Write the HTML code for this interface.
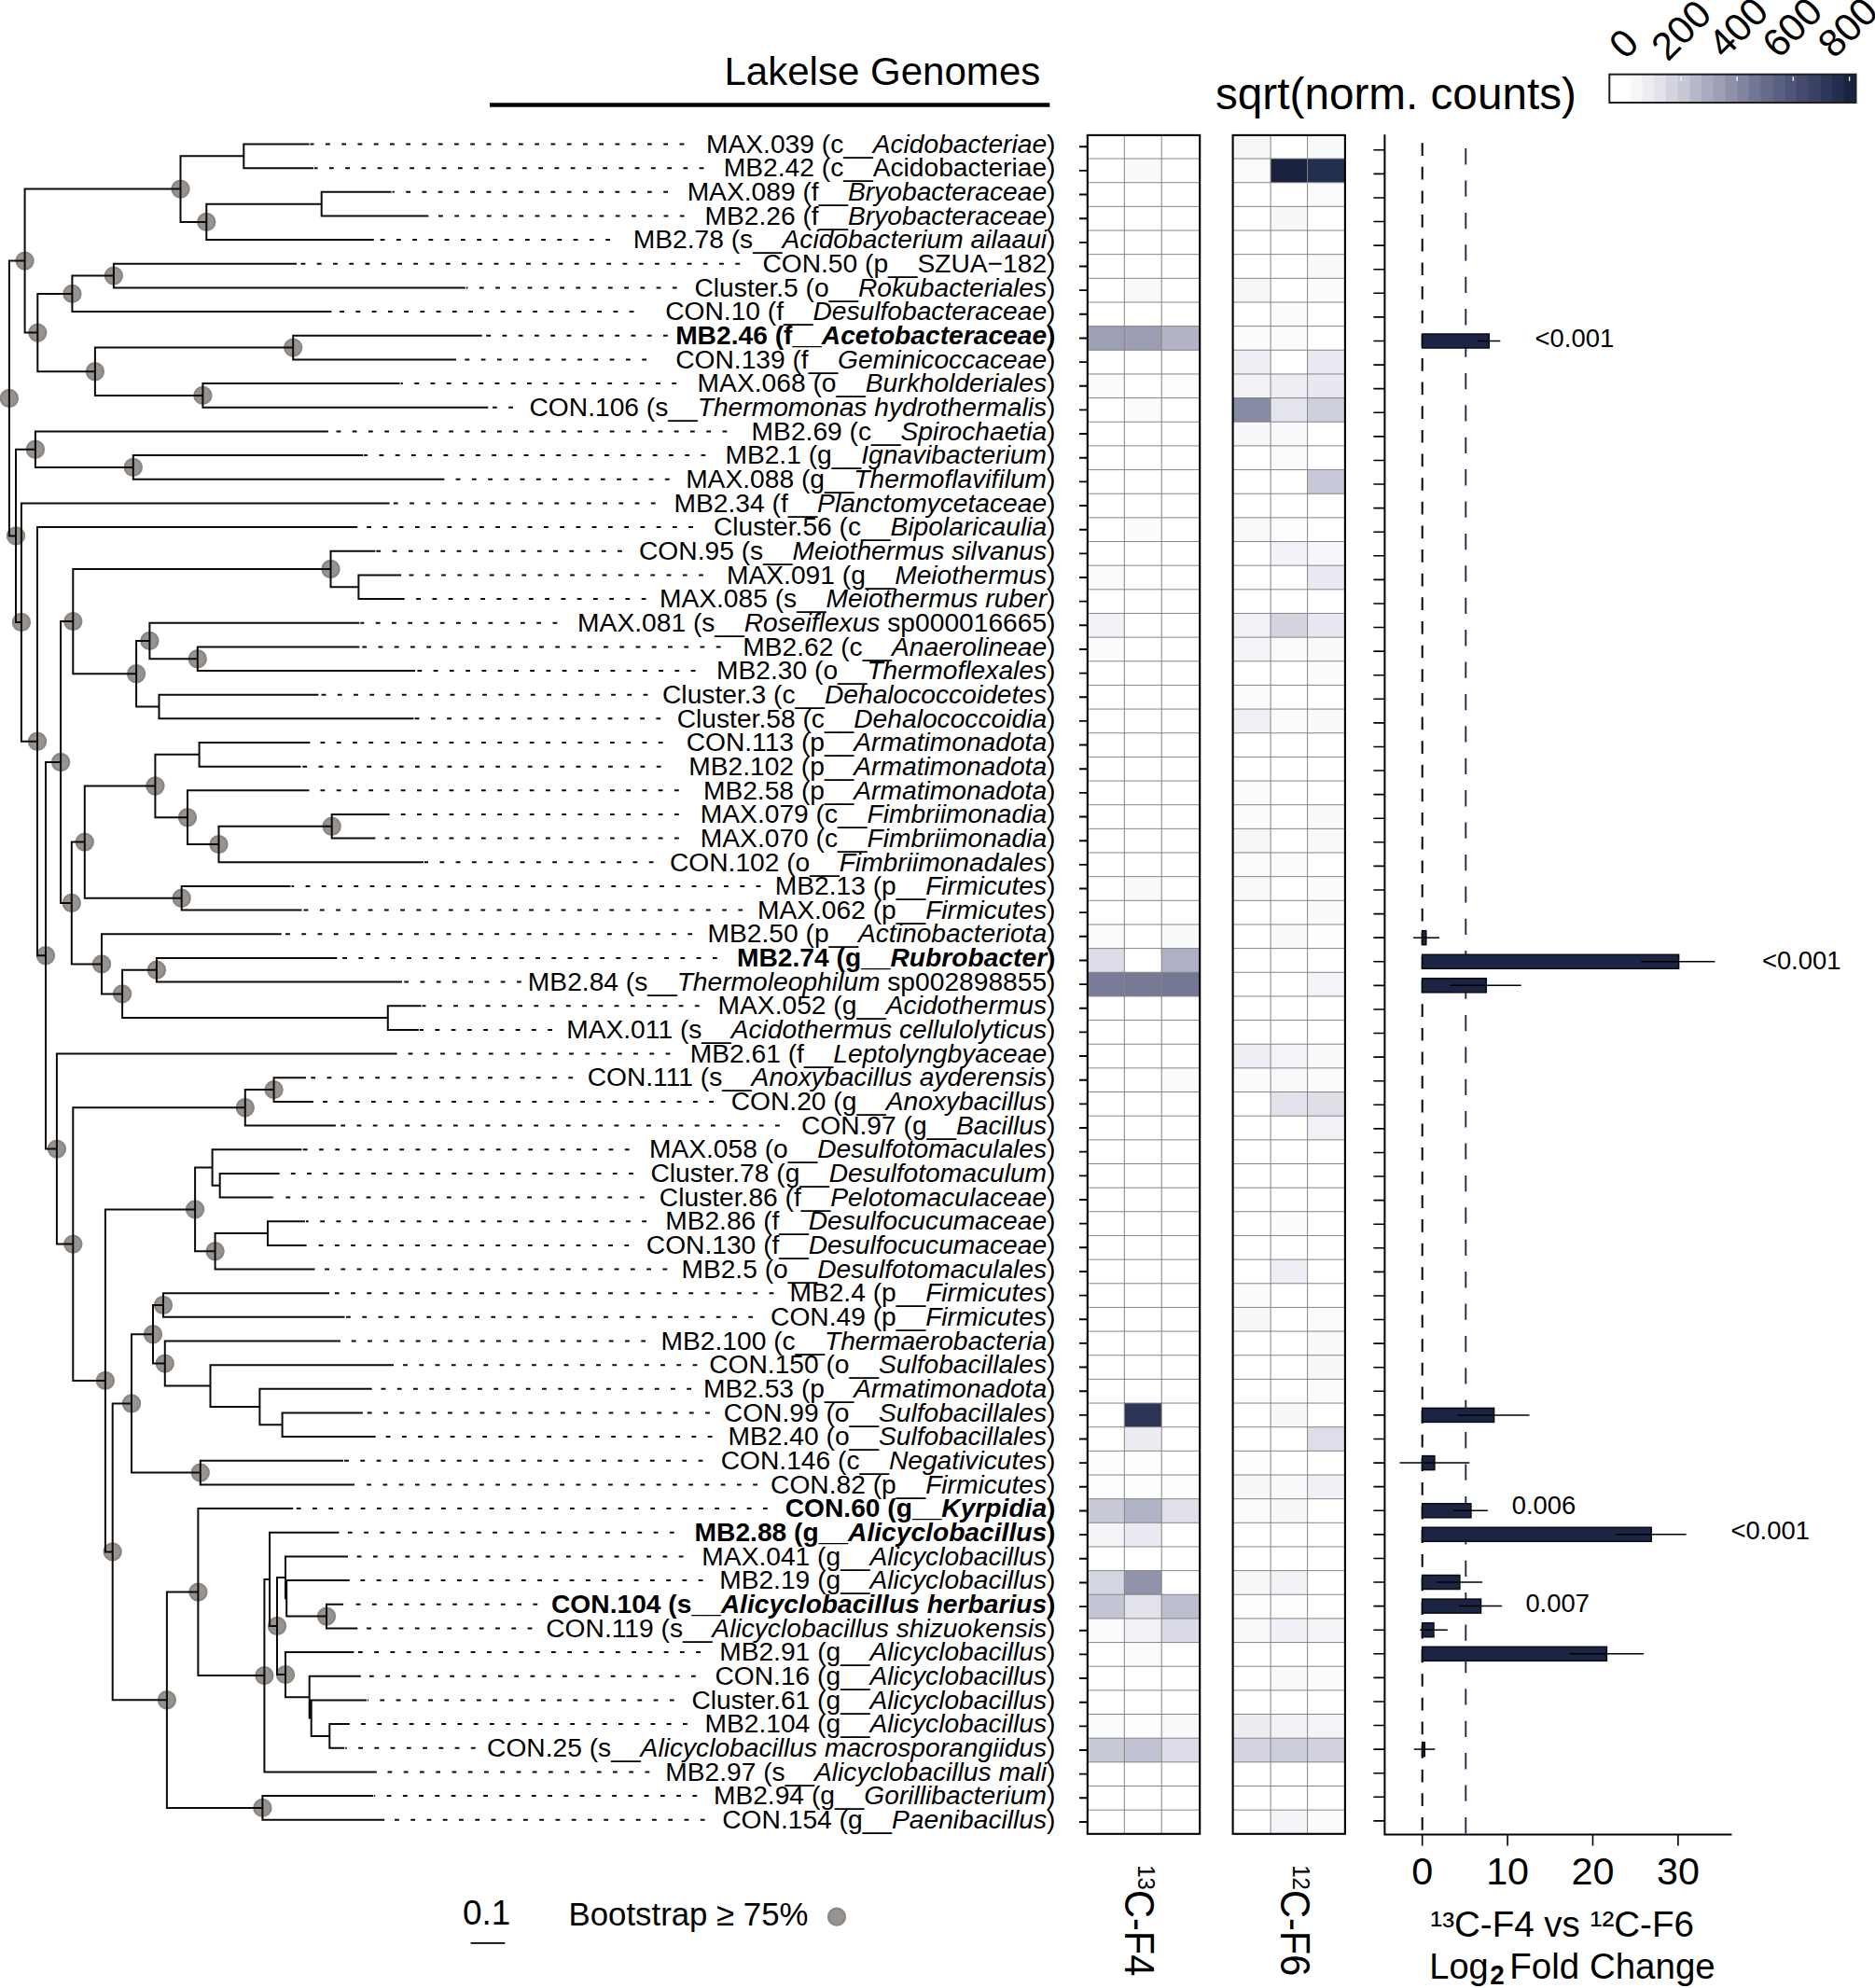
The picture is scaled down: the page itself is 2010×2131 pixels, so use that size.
<!DOCTYPE html>
<html><head><meta charset="utf-8"><title>Lakelse Genomes</title>
<style>
html,body{margin:0;padding:0;background:#fff}
svg{display:block}
text{font-family:"Liberation Sans",sans-serif;fill:#000}
</style></head><body>
<svg width="2010" height="2131" viewBox="0 0 2010 2131">
<rect width="2010" height="2131" fill="#fff"/>
<text x="776.4" y="90.9" font-size="42.05">Lakelse Genomes</text>
<path d="M525 112.4H1125.3" stroke="#000" stroke-width="4.5"/>
<text x="1303.0" y="117.4" font-size="47.7">sqrt(norm. counts)</text>
<g fill="#979390" stroke="#8b8784" stroke-width="2.4">
<circle cx="221.3" cy="237.9" r="9.0"/>
<circle cx="193.5" cy="202.6" r="9.0"/>
<circle cx="121.9" cy="295.6" r="9.0"/>
<circle cx="77.4" cy="314.9" r="9.0"/>
<circle cx="314.2" cy="372.6" r="9.0"/>
<circle cx="217.4" cy="423.9" r="9.0"/>
<circle cx="101.9" cy="398.3" r="9.0"/>
<circle cx="40.3" cy="356.6" r="9.0"/>
<circle cx="26.6" cy="279.6" r="9.0"/>
<circle cx="142.8" cy="500.9" r="9.0"/>
<circle cx="37.9" cy="481.7" r="9.0"/>
<circle cx="354.5" cy="610.0" r="9.0"/>
<circle cx="211.8" cy="706.2" r="9.0"/>
<circle cx="160.4" cy="686.9" r="9.0"/>
<circle cx="146.1" cy="722.2" r="9.0"/>
<circle cx="78.3" cy="666.1" r="9.0"/>
<circle cx="355.7" cy="885.8" r="9.0"/>
<circle cx="234.5" cy="905.1" r="9.0"/>
<circle cx="201.0" cy="876.2" r="9.0"/>
<circle cx="166.4" cy="842.5" r="9.0"/>
<circle cx="194.7" cy="962.8" r="9.0"/>
<circle cx="90.8" cy="902.6" r="9.0"/>
<circle cx="167.9" cy="1039.8" r="9.0"/>
<circle cx="131.1" cy="1065.4" r="9.0"/>
<circle cx="109.0" cy="1033.4" r="9.0"/>
<circle cx="76.8" cy="968.0" r="9.0"/>
<circle cx="65.1" cy="817.0" r="9.0"/>
<circle cx="293.6" cy="1168.1" r="9.0"/>
<circle cx="262.8" cy="1187.3" r="9.0"/>
<circle cx="230.6" cy="1341.3" r="9.0"/>
<circle cx="209.1" cy="1296.4" r="9.0"/>
<circle cx="175.0" cy="1399.0" r="9.0"/>
<circle cx="176.8" cy="1461.6" r="9.0"/>
<circle cx="164.0" cy="1430.3" r="9.0"/>
<circle cx="214.8" cy="1578.6" r="9.0"/>
<circle cx="141.0" cy="1504.5" r="9.0"/>
<circle cx="350.0" cy="1732.6" r="9.0"/>
<circle cx="306.0" cy="1795.1" r="9.0"/>
<circle cx="297.0" cy="1743.0" r="9.0"/>
<circle cx="283.4" cy="1796.1" r="9.0"/>
<circle cx="212.4" cy="1706.6" r="9.0"/>
<circle cx="281.4" cy="1937.9" r="9.0"/>
<circle cx="178.9" cy="1822.2" r="9.0"/>
<circle cx="120.7" cy="1663.4" r="9.0"/>
<circle cx="112.9" cy="1479.9" r="9.0"/>
<circle cx="78.3" cy="1333.6" r="9.0"/>
<circle cx="60.9" cy="1231.6" r="9.0"/>
<circle cx="49.0" cy="1024.3" r="9.0"/>
<circle cx="40.0" cy="794.7" r="9.0"/>
<circle cx="22.9" cy="667.0" r="9.0"/>
<circle cx="17.0" cy="574.4" r="9.0"/>
<circle cx="9.9" cy="427.0" r="9.0"/>
</g>
<path d="M260.3 154.5H331.5M260.3 180.2H336.0M261.3 153.5V181.2M192.5 167.3H261.3M343.7 205.8H419.6M343.7 231.5H459.4M344.7 204.8V232.5M220.3 218.7H344.7M220.3 257.1H400.8M221.3 217.7V258.1M192.5 237.9H221.3M193.5 166.3V238.9M25.6 202.6H193.5M120.9 282.8H318.1M120.9 308.5H498.8M121.9 281.8V309.5M76.4 295.6H121.9M76.4 334.1H355.4M77.4 294.6V335.1M39.3 314.9H77.4M313.2 359.8H516.7M313.2 385.4H489.0M314.2 358.8V386.4M100.9 372.6H314.2M216.4 411.1H428.6M216.4 436.8H523.3M217.4 410.1V437.8M100.9 423.9H217.4M101.9 371.6V424.9M39.3 398.3H101.9M40.3 313.9V399.3M25.6 356.6H40.3M26.6 201.6V357.6M8.9 279.6H26.6M36.9 462.4H351.9M141.8 488.1H389.2M141.8 513.7H476.4M142.8 487.1V514.7M36.9 500.9H142.8M37.9 461.4V501.9M16.0 481.7H37.9M21.9 539.4H417.6M39.0 565.1H383.2M353.5 590.7H402.3M383.4 616.4H430.1M383.4 642.0H433.7M384.4 615.4V643.0M353.5 629.2H384.4M354.5 589.7V630.2M77.3 610.0H354.5M159.4 667.7H385.3M210.8 693.4H385.3M210.8 719.0H445.0M211.8 692.4V720.0M159.4 706.2H211.8M160.4 666.7V707.2M145.1 686.9H160.4M169.5 744.7H341.4M169.5 770.3H443.5M170.5 743.7V771.3M145.1 757.5H170.5M146.1 685.9V758.5M77.3 722.2H146.1M78.3 609.0V723.2M64.1 666.1H78.3M212.6 796.0H332.4M212.6 821.7H322.6M213.6 795.0V822.7M165.4 808.8H213.6M200.0 847.3H331.5M354.7 873.0H417.6M354.7 898.6H402.3M355.7 872.0V899.6M233.5 885.8H355.7M233.5 924.3H454.0M234.5 884.8V925.3M200.0 905.1H234.5M201.0 846.3V906.1M165.4 876.2H201.0M166.4 807.8V877.2M89.8 842.5H166.4M193.7 950.0H311.5M193.7 975.6H323.5M194.7 949.0V976.6M89.8 962.8H194.7M90.8 841.5V963.8M75.8 902.6H90.8M108.0 1001.3H301.7M166.9 1026.9H361.4M166.9 1052.6H431.0M167.9 1025.9V1053.6M130.1 1039.8H167.9M414.8 1078.3H451.6M414.8 1103.9H448.9M415.8 1077.3V1104.9M130.1 1091.1H415.8M131.1 1038.8V1092.1M108.0 1065.4H131.1M109.0 1000.3V1066.4M75.8 1033.4H109.0M76.8 901.6V1034.4M64.1 968.0H76.8M65.1 665.1V969.0M48.0 817.0H65.1M59.9 1129.6H425.6M292.6 1155.2H328.0M292.6 1180.9H336.0M293.6 1154.2V1181.9M261.8 1168.1H293.6M261.8 1206.6H359.9M262.8 1167.1V1207.6M77.3 1187.3H262.8M226.6 1232.2H323.5M234.7 1257.9H299.6M234.7 1283.5H292.7M235.7 1256.9V1284.5M226.6 1270.7H235.7M227.6 1231.2V1271.7M208.1 1251.5H227.6M286.0 1309.2H327.0M286.0 1334.9H328.6M287.0 1308.2V1335.9M229.6 1322.0H287.0M229.6 1360.5H337.5M230.6 1321.0V1361.5M208.1 1341.3H230.6M209.1 1250.5V1342.3M111.9 1296.4H209.1M174.0 1386.2H353.0M174.0 1411.8H369.5M175.0 1385.2V1412.8M163.0 1399.0H175.0M175.8 1437.5H365.0M224.5 1463.2H422.0M277.4 1488.8H398.7M301.6 1514.5H388.9M301.6 1540.1H402.6M302.6 1513.5V1541.1M277.4 1527.3H302.6M278.4 1487.8V1528.3M224.5 1508.1H278.4M225.5 1462.2V1509.1M175.8 1485.6H225.5M176.8 1436.5V1486.6M163.0 1461.6H176.8M164.0 1398.0V1462.6M140.0 1430.3H164.0M213.8 1565.8H368.0M213.8 1591.5H380.0M214.8 1564.8V1592.5M140.0 1578.6H214.8M141.0 1429.3V1579.6M119.7 1504.5H141.0M211.4 1617.1H314.2M288.1 1642.8H363.5M305.0 1668.4H373.0M306.2 1694.1H374.9M349.0 1719.8H368.0M349.0 1745.4H383.3M350.0 1718.8V1746.4M306.2 1732.6H350.0M307.2 1693.1V1733.6M305.0 1713.3H307.2M306.0 1667.4V1714.3M296.0 1690.9H306.0M305.0 1771.1H379.4M330.7 1796.7H386.8M332.7 1822.4H393.0M352.3 1848.1H374.9M352.3 1873.7H369.2M353.3 1847.1V1874.7M332.7 1860.9H353.3M333.7 1821.4V1861.9M330.7 1841.6H333.7M331.7 1795.7V1842.6M305.0 1819.2H331.7M306.0 1770.1V1820.2M296.0 1795.1H306.0M297.0 1689.9V1796.1M288.1 1743.0H297.0M289.1 1641.8V1744.0M282.4 1692.9H289.1M282.4 1899.4H403.8M283.4 1691.9V1900.4M211.4 1796.1H283.4M212.4 1616.1V1797.1M177.9 1706.6H212.4M280.4 1925.0H400.2M280.4 1950.7H412.2M281.4 1924.0V1951.7M177.9 1937.9H281.4M178.9 1705.6V1938.9M119.7 1822.2H178.9M120.7 1503.5V1823.2M111.9 1663.4H120.7M112.9 1295.4V1664.4M77.3 1479.9H112.9M78.3 1186.3V1480.9M59.9 1333.6H78.3M60.9 1128.6V1334.6M48.0 1231.6H60.9M49.0 816.0V1232.6M39.0 1024.3H49.0M40.0 564.1V1025.3M21.9 794.7H40.0M22.9 538.4V795.7M16.0 667.0H22.9M17.0 480.7V668.0M8.9 574.4H17.0M9.9 278.6V575.4" stroke="#0e0a08" stroke-width="2" fill="none" stroke-linecap="butt"/>
<path d="M733.3 154.5H332.5M754.5 180.2H337.0M716.0 205.8H420.6M733.6 231.5H460.4M654.0 257.1H401.8M793.1 282.8H319.1M725.7 308.5H499.8M679.5 334.1H356.4M715.8 359.8H517.7M693.0 385.4H490.0M725.1 411.1H429.6M550.0 436.8H524.3M779.3 462.4H352.9M756.3 488.1H390.2M717.7 513.7H477.4M702.7 539.4H418.6M743.0 565.1H384.2M666.9 590.7H403.3M753.9 616.4H431.1M692.5 642.0H434.7M597.3 667.7H386.3M772.6 693.4H386.3M745.5 719.0H446.0M694.4 744.7H342.4M708.2 770.3H444.5M710.6 796.0H333.4M708.6 821.7H323.6M727.8 847.3H332.5M727.8 873.0H418.6M727.8 898.6H403.3M700.5 924.3H455.0M815.4 950.0H312.5M796.2 975.6H324.5M742.1 1001.3H302.7M768.7 1026.9H362.4M558.8 1052.6H432.0M749.7 1078.3H452.6M592.0 1103.9H449.9M718.4 1129.6H426.6M614.1 1155.2H329.0M765.0 1180.9H337.0M835.8 1206.6H360.9M674.6 1232.2H324.5M678.9 1257.9H300.6M690.7 1283.5H293.7M693.0 1309.2H328.0M674.2 1334.9H329.6M715.2 1360.5H338.5M829.4 1386.2H354.0M807.1 1411.8H370.5M692.1 1437.5H366.0M747.4 1463.2H423.0M741.1 1488.8H399.7M760.9 1514.5H389.9M763.5 1540.1H403.6M753.4 1565.8H369.0M812.0 1591.5H381.0M822.8 1617.1H315.2M722.7 1642.8H364.5M732.5 1668.4H374.0M753.5 1694.1H375.9M576.2 1719.8H369.0M570.4 1745.4H384.3M751.0 1771.1H380.4M745.8 1796.7H387.8M722.7 1822.4H394.0M736.8 1848.1H375.9M509.7 1873.7H370.2M696.3 1899.4H404.8M747.2 1925.0H401.2M755.6 1950.7H413.2" stroke="#0e0a08" stroke-width="2" fill="none" stroke-dasharray="4.8 12.45"/>
<g font-size="28.2">
<text transform="translate(1131.50 163.70) scale(1.0000 1)" text-anchor="end">MAX.039 (c__<tspan font-style="italic">Acidobacteriae</tspan>)</text>
<text transform="translate(1131.50 189.36) scale(1.0000 1)" text-anchor="end">MB2.42 (c__Acidobacteriae)</text>
<text transform="translate(1131.50 215.02) scale(1.0000 1)" text-anchor="end">MAX.089 (f__<tspan font-style="italic">Bryobacteraceae</tspan>)</text>
<text transform="translate(1131.50 240.68) scale(1.0000 1)" text-anchor="end">MB2.26 (f__<tspan font-style="italic">Bryobacteraceae</tspan>)</text>
<text transform="translate(1131.50 266.34) scale(1.0000 1)" text-anchor="end">MB2.78 (s__<tspan font-style="italic">Acidobacterium ailaaui</tspan>)</text>
<text transform="translate(1131.50 292.00) scale(1.0000 1)" text-anchor="end">CON.50 (p__SZUA−182)</text>
<text transform="translate(1131.50 317.66) scale(1.0000 1)" text-anchor="end">Cluster.5 (o__<tspan font-style="italic">Rokubacteriales</tspan>)</text>
<text transform="translate(1131.50 343.32) scale(1.0000 1)" text-anchor="end">CON.10 (f__<tspan font-style="italic">Desulfobacteraceae</tspan>)</text>
<text transform="translate(1131.50 368.98) scale(1.0000 1)" text-anchor="end" font-weight="bold">MB2.46 (f__<tspan font-style="italic">Acetobacteraceae</tspan>)</text>
<text transform="translate(1131.50 394.64) scale(1.0000 1)" text-anchor="end">CON.139 (f__<tspan font-style="italic">Geminicoccaceae</tspan>)</text>
<text transform="translate(1131.50 420.30) scale(1.0000 1)" text-anchor="end">MAX.068 (o__<tspan font-style="italic">Burkholderiales</tspan>)</text>
<text transform="translate(1131.50 445.96) scale(1.0000 1)" text-anchor="end">CON.106 (s__<tspan font-style="italic">Thermomonas hydrothermalis</tspan>)</text>
<text transform="translate(1131.50 471.62) scale(1.0000 1)" text-anchor="end">MB2.69 (c__<tspan font-style="italic">Spirochaetia</tspan>)</text>
<text transform="translate(1131.50 497.28) scale(1.0000 1)" text-anchor="end">MB2.1 (g__<tspan font-style="italic">Ignavibacterium</tspan>)</text>
<text transform="translate(1131.50 522.94) scale(1.0000 1)" text-anchor="end">MAX.088 (g__<tspan font-style="italic">Thermoflavifilum</tspan>)</text>
<text transform="translate(1131.50 548.60) scale(1.0000 1)" text-anchor="end">MB2.34 (f__<tspan font-style="italic">Planctomycetaceae</tspan>)</text>
<text transform="translate(1131.50 574.26) scale(1.0000 1)" text-anchor="end">Cluster.56 (c__<tspan font-style="italic">Bipolaricaulia</tspan>)</text>
<text transform="translate(1131.50 599.92) scale(1.0000 1)" text-anchor="end">CON.95 (s__<tspan font-style="italic">Meiothermus silvanus</tspan>)</text>
<text transform="translate(1131.50 625.58) scale(1.0000 1)" text-anchor="end">MAX.091 (g__<tspan font-style="italic">Meiothermus</tspan>)</text>
<text transform="translate(1131.50 651.24) scale(1.0000 1)" text-anchor="end">MAX.085 (s__<tspan font-style="italic">Meiothermus ruber</tspan>)</text>
<text transform="translate(1131.50 676.90) scale(1.0000 1)" text-anchor="end">MAX.081 (s__<tspan font-style="italic">Roseiflexus</tspan> sp000016665)</text>
<text transform="translate(1131.50 702.56) scale(1.0000 1)" text-anchor="end">MB2.62 (c__<tspan font-style="italic">Anaerolineae</tspan>)</text>
<text transform="translate(1131.50 728.22) scale(1.0000 1)" text-anchor="end">MB2.30 (o__<tspan font-style="italic">Thermoflexales</tspan>)</text>
<text transform="translate(1131.50 753.88) scale(1.0000 1)" text-anchor="end">Cluster.3 (c__<tspan font-style="italic">Dehalococcoidetes</tspan>)</text>
<text transform="translate(1131.50 779.54) scale(1.0000 1)" text-anchor="end">Cluster.58 (c__<tspan font-style="italic">Dehalococcoidia</tspan>)</text>
<text transform="translate(1131.50 805.20) scale(1.0000 1)" text-anchor="end">CON.113 (p__<tspan font-style="italic">Armatimonadota</tspan>)</text>
<text transform="translate(1131.50 830.86) scale(1.0000 1)" text-anchor="end">MB2.102 (p__<tspan font-style="italic">Armatimonadota</tspan>)</text>
<text transform="translate(1131.50 856.52) scale(1.0000 1)" text-anchor="end">MB2.58 (p__<tspan font-style="italic">Armatimonadota</tspan>)</text>
<text transform="translate(1131.50 882.18) scale(1.0000 1)" text-anchor="end">MAX.079 (c__<tspan font-style="italic">Fimbriimonadia</tspan>)</text>
<text transform="translate(1131.50 907.84) scale(1.0000 1)" text-anchor="end">MAX.070 (c__<tspan font-style="italic">Fimbriimonadia</tspan>)</text>
<text transform="translate(1131.50 933.50) scale(1.0000 1)" text-anchor="end">CON.102 (o__<tspan font-style="italic">Fimbriimonadales</tspan>)</text>
<text transform="translate(1131.50 959.16) scale(1.0000 1)" text-anchor="end">MB2.13 (p__<tspan font-style="italic">Firmicutes</tspan>)</text>
<text transform="translate(1131.50 984.82) scale(1.0000 1)" text-anchor="end">MAX.062 (p__<tspan font-style="italic">Firmicutes</tspan>)</text>
<text transform="translate(1131.50 1010.48) scale(1.0000 1)" text-anchor="end">MB2.50 (p__<tspan font-style="italic">Actinobacteriota</tspan>)</text>
<text transform="translate(1131.50 1036.14) scale(1.0000 1)" text-anchor="end" font-weight="bold">MB2.74 (g__<tspan font-style="italic">Rubrobacter</tspan>)</text>
<text transform="translate(1131.50 1061.80) scale(1.0000 1)" text-anchor="end">MB2.84 (s__<tspan font-style="italic">Thermoleophilum</tspan> sp002898855)</text>
<text transform="translate(1131.50 1087.46) scale(1.0000 1)" text-anchor="end">MAX.052 (g__<tspan font-style="italic">Acidothermus</tspan>)</text>
<text transform="translate(1131.50 1113.12) scale(1.0000 1)" text-anchor="end">MAX.011 (s__<tspan font-style="italic">Acidothermus cellulolyticus</tspan>)</text>
<text transform="translate(1131.50 1138.78) scale(1.0000 1)" text-anchor="end">MB2.61 (f__<tspan font-style="italic">Leptolyngbyaceae</tspan>)</text>
<text transform="translate(1131.50 1164.44) scale(1.0000 1)" text-anchor="end">CON.111 (s__<tspan font-style="italic">Anoxybacillus ayderensis</tspan>)</text>
<text transform="translate(1131.50 1190.10) scale(1.0000 1)" text-anchor="end">CON.20 (g__<tspan font-style="italic">Anoxybacillus</tspan>)</text>
<text transform="translate(1131.50 1215.76) scale(1.0000 1)" text-anchor="end">CON.97 (g__<tspan font-style="italic">Bacillus</tspan>)</text>
<text transform="translate(1131.50 1241.42) scale(1.0000 1)" text-anchor="end">MAX.058 (o__<tspan font-style="italic">Desulfotomaculales</tspan>)</text>
<text transform="translate(1131.50 1267.08) scale(1.0000 1)" text-anchor="end">Cluster.78 (g__<tspan font-style="italic">Desulfotomaculum</tspan>)</text>
<text transform="translate(1131.50 1292.74) scale(1.0000 1)" text-anchor="end">Cluster.86 (f__<tspan font-style="italic">Pelotomaculaceae</tspan>)</text>
<text transform="translate(1131.50 1318.40) scale(1.0000 1)" text-anchor="end">MB2.86 (f__<tspan font-style="italic">Desulfocucumaceae</tspan>)</text>
<text transform="translate(1131.50 1344.06) scale(1.0000 1)" text-anchor="end">CON.130 (f__<tspan font-style="italic">Desulfocucumaceae</tspan>)</text>
<text transform="translate(1131.50 1369.72) scale(1.0000 1)" text-anchor="end">MB2.5 (o__<tspan font-style="italic">Desulfotomaculales</tspan>)</text>
<text transform="translate(1131.50 1395.38) scale(1.0000 1)" text-anchor="end">MB2.4 (p__<tspan font-style="italic">Firmicutes</tspan>)</text>
<text transform="translate(1131.50 1421.04) scale(1.0000 1)" text-anchor="end">CON.49 (p__<tspan font-style="italic">Firmicutes</tspan>)</text>
<text transform="translate(1131.50 1446.70) scale(1.0000 1)" text-anchor="end">MB2.100 (c__<tspan font-style="italic">Thermaerobacteria</tspan>)</text>
<text transform="translate(1131.50 1472.36) scale(1.0000 1)" text-anchor="end">CON.150 (o__<tspan font-style="italic">Sulfobacillales</tspan>)</text>
<text transform="translate(1131.50 1498.02) scale(1.0000 1)" text-anchor="end">MB2.53 (p__<tspan font-style="italic">Armatimonadota</tspan>)</text>
<text transform="translate(1131.50 1523.68) scale(1.0000 1)" text-anchor="end">CON.99 (o__<tspan font-style="italic">Sulfobacillales</tspan>)</text>
<text transform="translate(1131.50 1549.34) scale(1.0000 1)" text-anchor="end">MB2.40 (o__<tspan font-style="italic">Sulfobacillales</tspan>)</text>
<text transform="translate(1131.50 1575.00) scale(1.0000 1)" text-anchor="end">CON.146 (c__<tspan font-style="italic">Negativicutes</tspan>)</text>
<text transform="translate(1131.50 1600.66) scale(1.0000 1)" text-anchor="end">CON.82 (p__<tspan font-style="italic">Firmicutes</tspan>)</text>
<text transform="translate(1131.50 1626.32) scale(1.0000 1)" text-anchor="end" font-weight="bold">CON.60 (g__<tspan font-style="italic">Kyrpidia</tspan>)</text>
<text transform="translate(1131.50 1651.98) scale(1.0000 1)" text-anchor="end" font-weight="bold">MB2.88 (g__<tspan font-style="italic">Alicyclobacillus</tspan>)</text>
<text transform="translate(1131.50 1677.64) scale(1.0000 1)" text-anchor="end">MAX.041 (g__<tspan font-style="italic">Alicyclobacillus</tspan>)</text>
<text transform="translate(1131.50 1703.30) scale(1.0000 1)" text-anchor="end">MB2.19 (g__<tspan font-style="italic">Alicyclobacillus</tspan>)</text>
<text transform="translate(1131.50 1728.96) scale(1.0000 1)" text-anchor="end" font-weight="bold">CON.104 (s__<tspan font-style="italic">Alicyclobacillus herbarius</tspan>)</text>
<text transform="translate(1131.50 1754.62) scale(1.0000 1)" text-anchor="end">CON.119 (s__<tspan font-style="italic">Alicyclobacillus shizuokensis</tspan>)</text>
<text transform="translate(1131.50 1780.28) scale(1.0000 1)" text-anchor="end">MB2.91 (g__<tspan font-style="italic">Alicyclobacillus</tspan>)</text>
<text transform="translate(1131.50 1805.94) scale(1.0000 1)" text-anchor="end">CON.16 (g__<tspan font-style="italic">Alicyclobacillus</tspan>)</text>
<text transform="translate(1131.50 1831.60) scale(1.0000 1)" text-anchor="end">Cluster.61 (g__<tspan font-style="italic">Alicyclobacillus</tspan>)</text>
<text transform="translate(1131.50 1857.26) scale(1.0000 1)" text-anchor="end">MB2.104 (g__<tspan font-style="italic">Alicyclobacillus</tspan>)</text>
<text transform="translate(1131.50 1882.92) scale(1.0000 1)" text-anchor="end">CON.25 (s__<tspan font-style="italic">Alicyclobacillus macrosporangiidus</tspan>)</text>
<text transform="translate(1131.50 1908.58) scale(1.0000 1)" text-anchor="end">MB2.97 (s__<tspan font-style="italic">Alicyclobacillus mali</tspan>)</text>
<text transform="translate(1131.50 1934.24) scale(1.0000 1)" text-anchor="end">MB2.94 (g__<tspan font-style="italic">Gorillibacterium</tspan>)</text>
<text transform="translate(1131.50 1959.90) scale(1.0000 1)" text-anchor="end">CON.154 (g__<tspan font-style="italic">Paenibacillus</tspan>)</text>
</g>
<rect x="1205.3" y="170.05" width="39.9" height="25.65" fill="#fafafc"/>
<rect x="1205.3" y="298.32" width="39.9" height="25.65" fill="#f9f9fb"/>
<rect x="1165.8" y="349.63" width="39.5" height="25.65" fill="#9d9fb6"/>
<rect x="1205.3" y="349.63" width="39.9" height="25.65" fill="#9b9db3"/>
<rect x="1245.2" y="349.63" width="41.0" height="25.65" fill="#b3b5c6"/>
<rect x="1165.8" y="400.94" width="39.5" height="25.65" fill="#fcfcfc"/>
<rect x="1245.2" y="400.94" width="41.0" height="25.65" fill="#fdfdfe"/>
<rect x="1205.3" y="426.59" width="39.9" height="25.65" fill="#fbfbfd"/>
<rect x="1205.3" y="554.86" width="39.9" height="25.65" fill="#fcfcfc"/>
<rect x="1165.8" y="606.16" width="39.5" height="25.65" fill="#fafbfd"/>
<rect x="1165.8" y="657.47" width="39.5" height="25.65" fill="#f2f3f8"/>
<rect x="1165.8" y="683.12" width="39.5" height="25.65" fill="#fbfcfd"/>
<rect x="1205.3" y="939.66" width="39.9" height="25.65" fill="#f9fafc"/>
<rect x="1165.8" y="990.97" width="39.5" height="25.65" fill="#fafbfd"/>
<rect x="1245.2" y="990.97" width="41.0" height="25.65" fill="#f9fafc"/>
<rect x="1165.8" y="1016.62" width="39.5" height="25.65" fill="#dcdde8"/>
<rect x="1245.2" y="1016.62" width="41.0" height="25.65" fill="#aeb1c6"/>
<rect x="1165.8" y="1042.27" width="39.5" height="25.65" fill="#787c98"/>
<rect x="1205.3" y="1042.27" width="39.9" height="25.65" fill="#767a96"/>
<rect x="1245.2" y="1042.27" width="41.0" height="25.65" fill="#747896"/>
<rect x="1245.2" y="1144.89" width="41.0" height="25.65" fill="#fcfcfe"/>
<rect x="1205.3" y="1504.04" width="39.9" height="25.65" fill="#2c3557"/>
<rect x="1205.3" y="1529.69" width="39.9" height="25.65" fill="#ecedf3"/>
<rect x="1165.8" y="1555.34" width="39.5" height="25.65" fill="#fdfdfe"/>
<rect x="1205.3" y="1555.34" width="39.9" height="25.65" fill="#fdfdfd"/>
<rect x="1165.8" y="1581.00" width="39.5" height="25.65" fill="#fdfdfd"/>
<rect x="1205.3" y="1581.00" width="39.9" height="25.65" fill="#fefefe"/>
<rect x="1245.2" y="1581.00" width="41.0" height="25.65" fill="#fdfdfe"/>
<rect x="1165.8" y="1606.65" width="39.5" height="25.65" fill="#c9cad8"/>
<rect x="1205.3" y="1606.65" width="39.9" height="25.65" fill="#b1b3c7"/>
<rect x="1245.2" y="1606.65" width="41.0" height="25.65" fill="#e0e1e8"/>
<rect x="1165.8" y="1632.30" width="39.5" height="25.65" fill="#f4f5f9"/>
<rect x="1205.3" y="1632.30" width="39.9" height="25.65" fill="#eaebf2"/>
<rect x="1165.8" y="1683.61" width="39.5" height="25.65" fill="#d4d7e2"/>
<rect x="1205.3" y="1683.61" width="39.9" height="25.65" fill="#8f94ab"/>
<rect x="1165.8" y="1709.26" width="39.5" height="25.65" fill="#c3c4d4"/>
<rect x="1205.3" y="1709.26" width="39.9" height="25.65" fill="#e2e3ea"/>
<rect x="1245.2" y="1709.26" width="41.0" height="25.65" fill="#bcbed0"/>
<rect x="1165.8" y="1734.92" width="39.5" height="25.65" fill="#fcfcfe"/>
<rect x="1205.3" y="1734.92" width="39.9" height="25.65" fill="#f1f2f7"/>
<rect x="1245.2" y="1734.92" width="41.0" height="25.65" fill="#dadbe6"/>
<rect x="1205.3" y="1760.57" width="39.9" height="25.65" fill="#fbfbfd"/>
<rect x="1165.8" y="1837.53" width="39.5" height="25.65" fill="#fafbfd"/>
<rect x="1205.3" y="1837.53" width="39.9" height="25.65" fill="#fdfdfe"/>
<rect x="1245.2" y="1837.53" width="41.0" height="25.65" fill="#f9f9fb"/>
<rect x="1165.8" y="1863.19" width="39.5" height="25.65" fill="#c9cad8"/>
<rect x="1205.3" y="1863.19" width="39.9" height="25.65" fill="#c2c3d4"/>
<rect x="1245.2" y="1863.19" width="41.0" height="25.65" fill="#dcdde8"/>
<path d="M1165.8 170.05H1286.2M1165.8 195.71H1286.2M1165.8 221.36H1286.2M1165.8 247.01H1286.2M1165.8 272.67H1286.2M1165.8 298.32H1286.2M1165.8 323.97H1286.2M1165.8 349.63H1286.2M1165.8 375.28H1286.2M1165.8 400.94H1286.2M1165.8 426.59H1286.2M1165.8 452.24H1286.2M1165.8 477.90H1286.2M1165.8 503.55H1286.2M1165.8 529.20H1286.2M1165.8 554.86H1286.2M1165.8 580.51H1286.2M1165.8 606.16H1286.2M1165.8 631.82H1286.2M1165.8 657.47H1286.2M1165.8 683.12H1286.2M1165.8 708.78H1286.2M1165.8 734.43H1286.2M1165.8 760.08H1286.2M1165.8 785.74H1286.2M1165.8 811.39H1286.2M1165.8 837.05H1286.2M1165.8 862.70H1286.2M1165.8 888.35H1286.2M1165.8 914.01H1286.2M1165.8 939.66H1286.2M1165.8 965.31H1286.2M1165.8 990.97H1286.2M1165.8 1016.62H1286.2M1165.8 1042.27H1286.2M1165.8 1067.93H1286.2M1165.8 1093.58H1286.2M1165.8 1119.23H1286.2M1165.8 1144.89H1286.2M1165.8 1170.54H1286.2M1165.8 1196.19H1286.2M1165.8 1221.85H1286.2M1165.8 1247.50H1286.2M1165.8 1273.15H1286.2M1165.8 1298.81H1286.2M1165.8 1324.46H1286.2M1165.8 1350.12H1286.2M1165.8 1375.77H1286.2M1165.8 1401.42H1286.2M1165.8 1427.08H1286.2M1165.8 1452.73H1286.2M1165.8 1478.38H1286.2M1165.8 1504.04H1286.2M1165.8 1529.69H1286.2M1165.8 1555.34H1286.2M1165.8 1581.00H1286.2M1165.8 1606.65H1286.2M1165.8 1632.30H1286.2M1165.8 1657.96H1286.2M1165.8 1683.61H1286.2M1165.8 1709.26H1286.2M1165.8 1734.92H1286.2M1165.8 1760.57H1286.2M1165.8 1786.23H1286.2M1165.8 1811.88H1286.2M1165.8 1837.53H1286.2M1165.8 1863.19H1286.2M1165.8 1888.84H1286.2M1165.8 1914.49H1286.2M1165.8 1940.15H1286.2M1205.3 144.4V1965.8M1245.2 144.4V1965.8" stroke="#827e7b" stroke-width="0.95" fill="none"/>
<rect x="1165.8" y="144.9" width="120.4" height="1820.9" fill="none" stroke="#000" stroke-width="2.1"/>
<path d="M1157.0 157.23H1165.8M1157.0 182.88H1165.8M1157.0 208.53H1165.8M1157.0 234.19H1165.8M1157.0 259.84H1165.8M1157.0 285.49H1165.8M1157.0 311.15H1165.8M1157.0 336.80H1165.8M1157.0 362.45H1165.8M1157.0 388.11H1165.8M1157.0 413.76H1165.8M1157.0 439.42H1165.8M1157.0 465.07H1165.8M1157.0 490.72H1165.8M1157.0 516.38H1165.8M1157.0 542.03H1165.8M1157.0 567.68H1165.8M1157.0 593.34H1165.8M1157.0 618.99H1165.8M1157.0 644.64H1165.8M1157.0 670.30H1165.8M1157.0 695.95H1165.8M1157.0 721.60H1165.8M1157.0 747.26H1165.8M1157.0 772.91H1165.8M1157.0 798.56H1165.8M1157.0 824.22H1165.8M1157.0 849.87H1165.8M1157.0 875.53H1165.8M1157.0 901.18H1165.8M1157.0 926.83H1165.8M1157.0 952.49H1165.8M1157.0 978.14H1165.8M1157.0 1003.79H1165.8M1157.0 1029.45H1165.8M1157.0 1055.10H1165.8M1157.0 1080.75H1165.8M1157.0 1106.41H1165.8M1157.0 1132.06H1165.8M1157.0 1157.71H1165.8M1157.0 1183.37H1165.8M1157.0 1209.02H1165.8M1157.0 1234.67H1165.8M1157.0 1260.33H1165.8M1157.0 1285.98H1165.8M1157.0 1311.64H1165.8M1157.0 1337.29H1165.8M1157.0 1362.94H1165.8M1157.0 1388.60H1165.8M1157.0 1414.25H1165.8M1157.0 1439.90H1165.8M1157.0 1465.56H1165.8M1157.0 1491.21H1165.8M1157.0 1516.86H1165.8M1157.0 1542.52H1165.8M1157.0 1568.17H1165.8M1157.0 1593.82H1165.8M1157.0 1619.48H1165.8M1157.0 1645.13H1165.8M1157.0 1670.78H1165.8M1157.0 1696.44H1165.8M1157.0 1722.09H1165.8M1157.0 1747.75H1165.8M1157.0 1773.40H1165.8M1157.0 1799.05H1165.8M1157.0 1824.71H1165.8M1157.0 1850.36H1165.8M1157.0 1876.01H1165.8M1157.0 1901.67H1165.8M1157.0 1927.32H1165.8M1157.0 1952.97H1165.8" stroke="#000" stroke-width="1.9" fill="none"/>
<rect x="1321.6" y="144.40" width="40.5" height="25.65" fill="#f5f6f8"/>
<rect x="1401.6" y="144.40" width="40.3" height="25.65" fill="#f9fafb"/>
<rect x="1321.6" y="170.05" width="40.5" height="25.65" fill="#fbfbfd"/>
<rect x="1362.1" y="170.05" width="39.5" height="25.65" fill="#1a2240"/>
<rect x="1401.6" y="170.05" width="40.3" height="25.65" fill="#222f50"/>
<rect x="1401.6" y="195.71" width="40.3" height="25.65" fill="#fbfbfd"/>
<rect x="1362.1" y="221.36" width="39.5" height="25.65" fill="#f8f8fa"/>
<rect x="1401.6" y="272.67" width="40.3" height="25.65" fill="#f9f9fb"/>
<rect x="1321.6" y="298.32" width="40.5" height="25.65" fill="#f6f6f9"/>
<rect x="1401.6" y="298.32" width="40.3" height="25.65" fill="#fcfcfd"/>
<rect x="1362.1" y="323.97" width="39.5" height="25.65" fill="#fbfbfb"/>
<rect x="1321.6" y="349.63" width="40.5" height="25.65" fill="#fcfcfd"/>
<rect x="1362.1" y="349.63" width="39.5" height="25.65" fill="#fbfbfd"/>
<rect x="1321.6" y="375.28" width="40.5" height="25.65" fill="#eeeef4"/>
<rect x="1401.6" y="375.28" width="40.3" height="25.65" fill="#e8e9f2"/>
<rect x="1321.6" y="400.94" width="40.5" height="25.65" fill="#f1f1f6"/>
<rect x="1362.1" y="400.94" width="39.5" height="25.65" fill="#eeeef4"/>
<rect x="1401.6" y="400.94" width="40.3" height="25.65" fill="#e8e9f0"/>
<rect x="1321.6" y="426.59" width="40.5" height="25.65" fill="#868ba3"/>
<rect x="1362.1" y="426.59" width="39.5" height="25.65" fill="#e3e4ee"/>
<rect x="1401.6" y="426.59" width="40.3" height="25.65" fill="#cfd0dd"/>
<rect x="1321.6" y="452.24" width="40.5" height="25.65" fill="#f8f8fb"/>
<rect x="1362.1" y="452.24" width="39.5" height="25.65" fill="#f9f9fb"/>
<rect x="1362.1" y="477.90" width="39.5" height="25.65" fill="#fbfbfd"/>
<rect x="1401.6" y="503.55" width="40.3" height="25.65" fill="#c8c9d8"/>
<rect x="1321.6" y="554.86" width="40.5" height="25.65" fill="#f9f9fc"/>
<rect x="1362.1" y="554.86" width="39.5" height="25.65" fill="#fdfdfe"/>
<rect x="1362.1" y="580.51" width="39.5" height="25.65" fill="#f2f3f8"/>
<rect x="1401.6" y="580.51" width="40.3" height="25.65" fill="#f6f7fa"/>
<rect x="1401.6" y="606.16" width="40.3" height="25.65" fill="#e9eaf1"/>
<rect x="1321.6" y="657.47" width="40.5" height="25.65" fill="#f1f2f7"/>
<rect x="1362.1" y="657.47" width="39.5" height="25.65" fill="#d4d5e1"/>
<rect x="1401.6" y="657.47" width="40.3" height="25.65" fill="#e8e9f0"/>
<rect x="1321.6" y="683.12" width="40.5" height="25.65" fill="#f5f5f9"/>
<rect x="1362.1" y="683.12" width="39.5" height="25.65" fill="#fbfbfc"/>
<rect x="1401.6" y="683.12" width="40.3" height="25.65" fill="#f9f9fb"/>
<rect x="1401.6" y="708.78" width="40.3" height="25.65" fill="#fcfcfc"/>
<rect x="1321.6" y="734.43" width="40.5" height="25.65" fill="#fbfbfd"/>
<rect x="1321.6" y="760.08" width="40.5" height="25.65" fill="#eff0f5"/>
<rect x="1362.1" y="760.08" width="39.5" height="25.65" fill="#fcfcfd"/>
<rect x="1401.6" y="760.08" width="40.3" height="25.65" fill="#fafafc"/>
<rect x="1321.6" y="837.05" width="40.5" height="25.65" fill="#fbfbfd"/>
<rect x="1321.6" y="862.70" width="40.5" height="25.65" fill="#fcfcfd"/>
<rect x="1401.6" y="862.70" width="40.3" height="25.65" fill="#fafafc"/>
<rect x="1321.6" y="888.35" width="40.5" height="25.65" fill="#f6f6f9"/>
<rect x="1401.6" y="888.35" width="40.3" height="25.65" fill="#f9f9fb"/>
<rect x="1321.6" y="914.01" width="40.5" height="25.65" fill="#fbfbfc"/>
<rect x="1362.1" y="914.01" width="39.5" height="25.65" fill="#fbfbfd"/>
<rect x="1321.6" y="939.66" width="40.5" height="25.65" fill="#f9f9fb"/>
<rect x="1401.6" y="939.66" width="40.3" height="25.65" fill="#fcfcfc"/>
<rect x="1401.6" y="965.31" width="40.3" height="25.65" fill="#fafafc"/>
<rect x="1362.1" y="990.97" width="39.5" height="25.65" fill="#fafafc"/>
<rect x="1401.6" y="990.97" width="40.3" height="25.65" fill="#fdfdfd"/>
<rect x="1401.6" y="1042.27" width="40.3" height="25.65" fill="#f3f4f8"/>
<rect x="1321.6" y="1119.23" width="40.5" height="25.65" fill="#ededf3"/>
<rect x="1362.1" y="1119.23" width="39.5" height="25.65" fill="#f3f3f8"/>
<rect x="1401.6" y="1119.23" width="40.3" height="25.65" fill="#fafafc"/>
<rect x="1321.6" y="1144.89" width="40.5" height="25.65" fill="#fcfcfd"/>
<rect x="1362.1" y="1144.89" width="39.5" height="25.65" fill="#f9f9fc"/>
<rect x="1401.6" y="1144.89" width="40.3" height="25.65" fill="#fcfcfd"/>
<rect x="1362.1" y="1170.54" width="39.5" height="25.65" fill="#e1e2eb"/>
<rect x="1401.6" y="1170.54" width="40.3" height="25.65" fill="#dddee6"/>
<rect x="1401.6" y="1196.19" width="40.3" height="25.65" fill="#f1f2f7"/>
<rect x="1362.1" y="1298.81" width="39.5" height="25.65" fill="#fbfcfd"/>
<rect x="1362.1" y="1350.12" width="39.5" height="25.65" fill="#eeeff5"/>
<rect x="1321.6" y="1375.77" width="40.5" height="25.65" fill="#fcfcfc"/>
<rect x="1321.6" y="1401.42" width="40.5" height="25.65" fill="#f8f8fb"/>
<rect x="1401.6" y="1401.42" width="40.3" height="25.65" fill="#fbfbfc"/>
<rect x="1401.6" y="1427.08" width="40.3" height="25.65" fill="#f9f9fc"/>
<rect x="1401.6" y="1452.73" width="40.3" height="25.65" fill="#f8f8fb"/>
<rect x="1401.6" y="1478.38" width="40.3" height="25.65" fill="#fbfbfd"/>
<rect x="1362.1" y="1504.04" width="39.5" height="25.65" fill="#f8f8fa"/>
<rect x="1401.6" y="1529.69" width="40.3" height="25.65" fill="#dddee9"/>
<rect x="1321.6" y="1555.34" width="40.5" height="25.65" fill="#fdfdfd"/>
<rect x="1321.6" y="1581.00" width="40.5" height="25.65" fill="#f7f7fa"/>
<rect x="1362.1" y="1581.00" width="39.5" height="25.65" fill="#f9f9fb"/>
<rect x="1401.6" y="1581.00" width="40.3" height="25.65" fill="#f0f1f6"/>
<rect x="1321.6" y="1606.65" width="40.5" height="25.65" fill="#fbfbfd"/>
<rect x="1362.1" y="1606.65" width="39.5" height="25.65" fill="#f8f8fa"/>
<rect x="1321.6" y="1683.61" width="40.5" height="25.65" fill="#f6f6f9"/>
<rect x="1362.1" y="1683.61" width="39.5" height="25.65" fill="#f1f1f6"/>
<rect x="1321.6" y="1709.26" width="40.5" height="25.65" fill="#fdfdfd"/>
<rect x="1362.1" y="1709.26" width="39.5" height="25.65" fill="#fdfdfd"/>
<rect x="1321.6" y="1734.92" width="40.5" height="25.65" fill="#f9f9fb"/>
<rect x="1362.1" y="1734.92" width="39.5" height="25.65" fill="#f0f1f6"/>
<rect x="1401.6" y="1734.92" width="40.3" height="25.65" fill="#f3f4f8"/>
<rect x="1362.1" y="1786.23" width="39.5" height="25.65" fill="#f9f9fc"/>
<rect x="1401.6" y="1786.23" width="40.3" height="25.65" fill="#fcfcfc"/>
<rect x="1321.6" y="1837.53" width="40.5" height="25.65" fill="#ecedf3"/>
<rect x="1362.1" y="1837.53" width="39.5" height="25.65" fill="#f1f1f6"/>
<rect x="1401.6" y="1837.53" width="40.3" height="25.65" fill="#f3f3f8"/>
<rect x="1321.6" y="1863.19" width="40.5" height="25.65" fill="#d3d4e0"/>
<rect x="1362.1" y="1863.19" width="39.5" height="25.65" fill="#cccdda"/>
<rect x="1401.6" y="1863.19" width="40.3" height="25.65" fill="#d0d1dd"/>
<rect x="1362.1" y="1940.15" width="39.5" height="25.65" fill="#f4f5f9"/>
<rect x="1401.6" y="1940.15" width="40.3" height="25.65" fill="#fafbfd"/>
<path d="M1321.6 170.05H1441.9M1321.6 195.71H1441.9M1321.6 221.36H1441.9M1321.6 247.01H1441.9M1321.6 272.67H1441.9M1321.6 298.32H1441.9M1321.6 323.97H1441.9M1321.6 349.63H1441.9M1321.6 375.28H1441.9M1321.6 400.94H1441.9M1321.6 426.59H1441.9M1321.6 452.24H1441.9M1321.6 477.90H1441.9M1321.6 503.55H1441.9M1321.6 529.20H1441.9M1321.6 554.86H1441.9M1321.6 580.51H1441.9M1321.6 606.16H1441.9M1321.6 631.82H1441.9M1321.6 657.47H1441.9M1321.6 683.12H1441.9M1321.6 708.78H1441.9M1321.6 734.43H1441.9M1321.6 760.08H1441.9M1321.6 785.74H1441.9M1321.6 811.39H1441.9M1321.6 837.05H1441.9M1321.6 862.70H1441.9M1321.6 888.35H1441.9M1321.6 914.01H1441.9M1321.6 939.66H1441.9M1321.6 965.31H1441.9M1321.6 990.97H1441.9M1321.6 1016.62H1441.9M1321.6 1042.27H1441.9M1321.6 1067.93H1441.9M1321.6 1093.58H1441.9M1321.6 1119.23H1441.9M1321.6 1144.89H1441.9M1321.6 1170.54H1441.9M1321.6 1196.19H1441.9M1321.6 1221.85H1441.9M1321.6 1247.50H1441.9M1321.6 1273.15H1441.9M1321.6 1298.81H1441.9M1321.6 1324.46H1441.9M1321.6 1350.12H1441.9M1321.6 1375.77H1441.9M1321.6 1401.42H1441.9M1321.6 1427.08H1441.9M1321.6 1452.73H1441.9M1321.6 1478.38H1441.9M1321.6 1504.04H1441.9M1321.6 1529.69H1441.9M1321.6 1555.34H1441.9M1321.6 1581.00H1441.9M1321.6 1606.65H1441.9M1321.6 1632.30H1441.9M1321.6 1657.96H1441.9M1321.6 1683.61H1441.9M1321.6 1709.26H1441.9M1321.6 1734.92H1441.9M1321.6 1760.57H1441.9M1321.6 1786.23H1441.9M1321.6 1811.88H1441.9M1321.6 1837.53H1441.9M1321.6 1863.19H1441.9M1321.6 1888.84H1441.9M1321.6 1914.49H1441.9M1321.6 1940.15H1441.9M1362.1 144.4V1965.8M1401.6 144.4V1965.8" stroke="#827e7b" stroke-width="0.95" fill="none"/>
<rect x="1321.6" y="144.9" width="120.3" height="1820.9" fill="none" stroke="#000" stroke-width="2.1"/>
<path d="M1472.4 160.80H1484.4M1472.4 186.39H1484.4M1472.4 211.97H1484.4M1472.4 237.56H1484.4M1472.4 263.15H1484.4M1472.4 288.74H1484.4M1472.4 314.32H1484.4M1472.4 339.91H1484.4M1472.4 365.50H1484.4M1472.4 391.08H1484.4M1472.4 416.67H1484.4M1472.4 442.26H1484.4M1472.4 467.84H1484.4M1472.4 493.43H1484.4M1472.4 519.02H1484.4M1472.4 544.61H1484.4M1472.4 570.19H1484.4M1472.4 595.78H1484.4M1472.4 621.37H1484.4M1472.4 646.95H1484.4M1472.4 672.54H1484.4M1472.4 698.13H1484.4M1472.4 723.71H1484.4M1472.4 749.30H1484.4M1472.4 774.89H1484.4M1472.4 800.47H1484.4M1472.4 826.06H1484.4M1472.4 851.65H1484.4M1472.4 877.24H1484.4M1472.4 902.82H1484.4M1472.4 928.41H1484.4M1472.4 954.00H1484.4M1472.4 979.58H1484.4M1472.4 1005.17H1484.4M1472.4 1030.76H1484.4M1472.4 1056.35H1484.4M1472.4 1081.93H1484.4M1472.4 1107.52H1484.4M1472.4 1133.11H1484.4M1472.4 1158.69H1484.4M1472.4 1184.28H1484.4M1472.4 1209.87H1484.4M1472.4 1235.45H1484.4M1472.4 1261.04H1484.4M1472.4 1286.63H1484.4M1472.4 1312.21H1484.4M1472.4 1337.80H1484.4M1472.4 1363.39H1484.4M1472.4 1388.98H1484.4M1472.4 1414.56H1484.4M1472.4 1440.15H1484.4M1472.4 1465.74H1484.4M1472.4 1491.32H1484.4M1472.4 1516.91H1484.4M1472.4 1542.50H1484.4M1472.4 1568.09H1484.4M1472.4 1593.67H1484.4M1472.4 1619.26H1484.4M1472.4 1644.85H1484.4M1472.4 1670.43H1484.4M1472.4 1696.02H1484.4M1472.4 1721.61H1484.4M1472.4 1747.19H1484.4M1472.4 1772.78H1484.4M1472.4 1798.37H1484.4M1472.4 1823.95H1484.4M1472.4 1849.54H1484.4M1472.4 1875.13H1484.4M1472.4 1900.72H1484.4M1472.4 1926.30H1484.4M1472.4 1951.89H1484.4M1524.7 1966.6V1978.6M1616.1 1966.6V1978.6M1707.5 1966.6V1978.6M1798.9 1966.6V1978.6" stroke="#000" stroke-width="1.6" fill="none"/>
<path d="M1524.7 153.2V1966.6" stroke="#000" stroke-width="2" stroke-dasharray="13.7 11.94" fill="none"/>
<path d="M1571.3 159.1V1966.6" stroke="#1f2a4d" stroke-width="1.9" stroke-dasharray="17.3 17.1" fill="none"/>
<rect x="1524.6" y="358.0" width="71.7" height="15.0" fill="#1b2443" stroke="#0a0a12" stroke-width="1.5"/>
<path d="M1584.4 365.5H1608.3" stroke="#000" stroke-width="1.5"/>
<rect x="1524.6" y="997.7" width="4.2" height="15.0" fill="#1b2443" stroke="#0a0a12" stroke-width="1.5"/>
<path d="M1515.1 1005.2H1543.0" stroke="#000" stroke-width="1.5"/>
<rect x="1524.6" y="1023.3" width="275.0" height="15.0" fill="#1b2443" stroke="#0a0a12" stroke-width="1.5"/>
<path d="M1759.2 1030.8H1838.4" stroke="#000" stroke-width="1.5"/>
<rect x="1524.6" y="1048.8" width="68.7" height="15.0" fill="#1b2443" stroke="#0a0a12" stroke-width="1.5"/>
<path d="M1554.5 1056.3H1630.7" stroke="#000" stroke-width="1.5"/>
<rect x="1524.6" y="1509.4" width="77.0" height="15.0" fill="#1b2443" stroke="#0a0a12" stroke-width="1.5"/>
<path d="M1562.7 1516.9H1639.5" stroke="#000" stroke-width="1.5"/>
<rect x="1524.6" y="1560.6" width="13.3" height="15.0" fill="#1b2443" stroke="#0a0a12" stroke-width="1.5"/>
<path d="M1500.5 1568.1H1575.3" stroke="#000" stroke-width="1.5"/>
<rect x="1524.6" y="1611.8" width="52.3" height="15.0" fill="#1b2443" stroke="#0a0a12" stroke-width="1.5"/>
<path d="M1558.3 1619.3H1594.9" stroke="#000" stroke-width="1.5"/>
<rect x="1524.6" y="1637.3" width="245.6" height="15.0" fill="#1b2443" stroke="#0a0a12" stroke-width="1.5"/>
<path d="M1732.2 1644.8H1807.6" stroke="#000" stroke-width="1.5"/>
<rect x="1524.6" y="1688.5" width="40.3" height="15.0" fill="#1b2443" stroke="#0a0a12" stroke-width="1.5"/>
<path d="M1540.7 1696.0H1589.1" stroke="#000" stroke-width="1.5"/>
<rect x="1524.6" y="1714.1" width="62.9" height="15.0" fill="#1b2443" stroke="#0a0a12" stroke-width="1.5"/>
<path d="M1564.1 1721.6H1610.2" stroke="#000" stroke-width="1.5"/>
<rect x="1524.6" y="1739.7" width="12.4" height="15.0" fill="#1b2443" stroke="#0a0a12" stroke-width="1.5"/>
<path d="M1522.2 1747.2H1551.8" stroke="#000" stroke-width="1.5"/>
<rect x="1524.6" y="1765.3" width="197.8" height="15.0" fill="#1b2443" stroke="#0a0a12" stroke-width="1.5"/>
<path d="M1682.4 1772.8H1762.1" stroke="#000" stroke-width="1.5"/>
<rect x="1524.6" y="1867.6" width="2.7" height="15.0" fill="#1b2443" stroke="#0a0a12" stroke-width="1.5"/>
<path d="M1515.7 1875.1H1538.3" stroke="#000" stroke-width="1.5"/>
<path d="M1484.4 144.2V1966.6H1856.5" stroke="#000" stroke-width="2" fill="none"/>
<text x="1645.6" y="372.4" font-size="27.4">&lt;0.001</text>
<text x="1888.9" y="1039.2" font-size="27.4">&lt;0.001</text>
<text x="1620.7" y="1623.2" font-size="27.4">0.006</text>
<text x="1855.4" y="1649.5" font-size="27.4">&lt;0.001</text>
<text x="1635.4" y="1727.8" font-size="27.4">0.007</text>
<text x="1524.7" y="2020" font-size="41.3" text-anchor="middle">0</text>
<text x="1616.1" y="2020" font-size="41.3" text-anchor="middle">10</text>
<text x="1707.5" y="2020" font-size="41.3" text-anchor="middle">20</text>
<text x="1798.9" y="2020" font-size="41.3" text-anchor="middle">30</text>
<text x="1533.3" y="2075.8" font-size="38.55">¹³C-F4 vs ¹²C-F6</text>
<text x="1532.3" y="2120.9" font-size="38">Log</text>
<text x="1597.2" y="2127.1" font-size="30" font-weight="bold" transform="translate(1597.2 0) scale(0.93 1) translate(-1597.2 0)">2</text>
<text x="1618.3" y="2120.9" font-size="38.5">Fold Change</text>
<rect x="1725.30" y="79.7" width="10.10" height="30.3" fill="#ffffff"/>
<rect x="1734.90" y="79.7" width="13.23" height="30.3" fill="#ffffff"/>
<rect x="1747.63" y="79.7" width="13.23" height="30.3" fill="#f6f7f9"/>
<rect x="1760.36" y="79.7" width="13.23" height="30.3" fill="#ececf1"/>
<rect x="1773.09" y="79.7" width="13.23" height="30.3" fill="#e1e2ea"/>
<rect x="1785.82" y="79.7" width="13.23" height="30.3" fill="#d3d4df"/>
<rect x="1798.55" y="79.7" width="13.23" height="30.3" fill="#c6c8d6"/>
<rect x="1811.28" y="79.7" width="13.23" height="30.3" fill="#b7b9ca"/>
<rect x="1824.01" y="79.7" width="13.23" height="30.3" fill="#a9acc0"/>
<rect x="1836.74" y="79.7" width="13.23" height="30.3" fill="#9c9fb5"/>
<rect x="1849.47" y="79.7" width="13.23" height="30.3" fill="#8d91aa"/>
<rect x="1862.20" y="79.7" width="13.23" height="30.3" fill="#8084a0"/>
<rect x="1874.93" y="79.7" width="13.23" height="30.3" fill="#727795"/>
<rect x="1887.66" y="79.7" width="13.23" height="30.3" fill="#666b8b"/>
<rect x="1900.39" y="79.7" width="13.23" height="30.3" fill="#5a6082"/>
<rect x="1913.12" y="79.7" width="13.23" height="30.3" fill="#4e5578"/>
<rect x="1925.85" y="79.7" width="13.23" height="30.3" fill="#434a6e"/>
<rect x="1938.58" y="79.7" width="13.23" height="30.3" fill="#394165"/>
<rect x="1951.31" y="79.7" width="13.23" height="30.3" fill="#2e375b"/>
<rect x="1964.04" y="79.7" width="13.23" height="30.3" fill="#232d50"/>
<rect x="1976.77" y="79.7" width="12.73" height="30.3" fill="#19233f"/>
<rect x="1725.3" y="79.7" width="264.2" height="30.3" fill="none" stroke="#231f20" stroke-width="2"/>
<path d="M1802.1 82.2V86.8" stroke="#fff" stroke-width="1.3"/>
<path d="M1862.2 82.2V86.8" stroke="#fff" stroke-width="1.3"/>
<path d="M1922.3 82.2V86.8" stroke="#fff" stroke-width="1.3"/>
<path d="M1982.6 82.2V86.8" stroke="#fff" stroke-width="1.3"/>
<text transform="translate(1740.2 46.1) rotate(-45)" font-size="41.8" text-anchor="middle" dy="15">0</text>
<text transform="translate(1801.7 31.7) rotate(-45)" font-size="41.8" text-anchor="middle" dy="15">200</text>
<text transform="translate(1862.7 28.8) rotate(-45)" font-size="41.8" text-anchor="middle" dy="15">400</text>
<text transform="translate(1920.7 28.8) rotate(-45)" font-size="41.8" text-anchor="middle" dy="15">600</text>
<text transform="translate(1980.3 28.8) rotate(-45)" font-size="41.8" text-anchor="middle" dy="15">800</text>
<text x="496" y="2063" font-size="37">0.1</text>
<path d="M504.6 2082.9H541.4" stroke="#000" stroke-width="1.8"/>
<text x="609.5" y="2063.5" font-size="34.8">Bootstrap ≥ 75%</text>
<circle cx="897" cy="2054.7" r="8.9" fill="#979390" stroke="#8b8784" stroke-width="2.4"/>
<text transform="translate(1206.3 1999.2) rotate(90) scale(1 1.075)" font-size="41.6"><tspan font-size="24" dy="-12.4">13</tspan><tspan dy="12.4">C-F4</tspan></text>
<text transform="translate(1372.7 1999.2) rotate(90) scale(1 1.075)" font-size="41.6"><tspan font-size="24" dy="-12.4">12</tspan><tspan dy="12.4">C-F6</tspan></text>
</svg></body></html>
